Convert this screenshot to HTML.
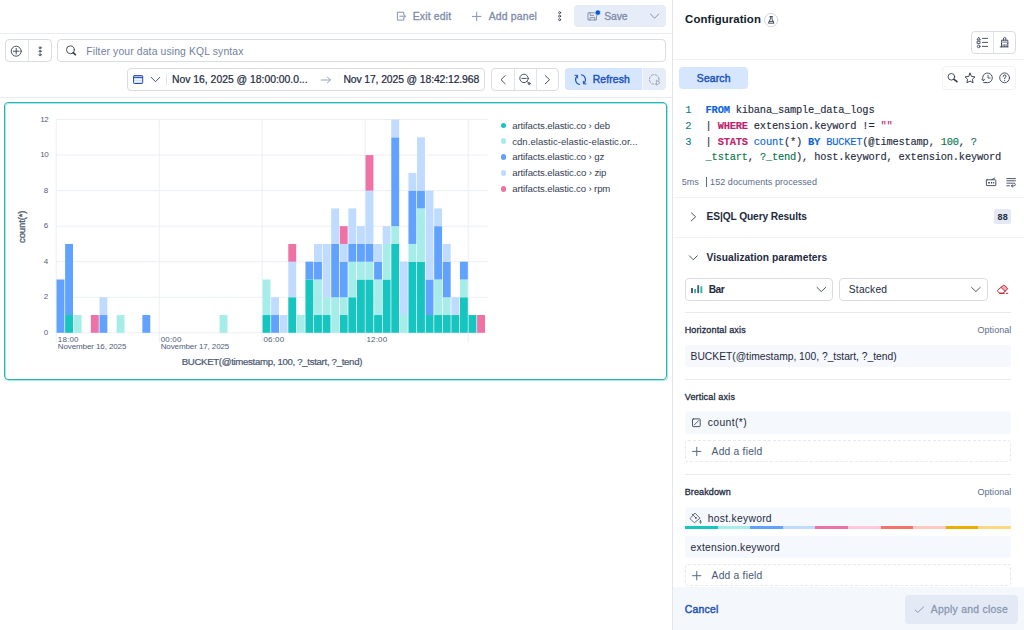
<!DOCTYPE html>
<html><head><meta charset="utf-8"><title>Dashboard</title>
<style>
*{box-sizing:border-box;margin:0;padding:0}
html,body{width:1024px;height:630px;overflow:hidden;background:#fff}
body{font-family:"Liberation Sans",sans-serif;color:#1d2a3e;position:relative;font-size:12px}
.a{position:absolute}
.t{position:absolute;white-space:nowrap;line-height:1}
.hl{position:absolute;height:1px;background:#e9ebf1}
.box{position:absolute;border:1px solid #d9dce5;border-radius:4px;background:#fff}
.fld{position:absolute;left:684.7px;width:326.3px;height:22.4px;background:#f5f8fc;border-radius:3px}
.dash{position:absolute;left:684.7px;width:326.3px;height:22.2px;border:1px dashed #e6e9f1;border-radius:3px}
svg{position:absolute;overflow:visible}
.mono{font-family:"Liberation Mono",monospace;-webkit-text-stroke:.12px}

</style></head>
<body>
<!-- ===== left: header ===== -->
<div class="hl" style="left:0;top:33px;width:672px;background:#eaecf3"></div>
<div class="a" style="left:574.3px;top:4.8px;width:91.7px;height:22.1px;background:#e7edf8;border-radius:4px"></div>
<!-- query bar -->
<div class="box" style="left:5px;top:39.4px;width:46.8px;height:22.8px"></div>
<div class="a" style="left:28px;top:40.4px;width:1px;height:20.8px;background:#dfe5ef"></div>
<div class="box" style="left:56.9px;top:39.4px;width:609.1px;height:22.8px"></div>
<!-- date picker -->
<div class="box" style="left:127.2px;top:68.3px;width:358.2px;height:22.3px"></div>
<div class="a" style="left:166px;top:74px;width:1px;height:10.5px;background:#dfe5ef"></div>
<div class="box" style="left:491.4px;top:68.3px;width:67.5px;height:22.3px"></div>
<div class="a" style="left:514.2px;top:69.3px;width:1px;height:20.3px;background:#dfe5ef"></div>
<div class="a" style="left:536.3px;top:69.3px;width:1px;height:20.3px;background:#dfe5ef"></div>
<div class="a" style="left:565px;top:68.2px;width:100.6px;height:22.3px;background:#e7edf8;border-radius:4px"></div>
<div class="a" style="left:565px;top:68.2px;width:77.2px;height:22.3px;background:#d6e6ff;border-radius:4px 0 0 4px"></div>
<div class="a" id="sepwhite" style="left:641.8px;top:68.2px;width:1px;height:22.3px;background:#f3f6fc"></div>
<div class="hl" style="left:0;top:97px;width:672px;background:#eaecf3"></div>
<!-- panel -->
<div class="a" style="left:4.6px;top:103.1px;width:663px;height:277.5px;border:1.1px solid #9aefe9;border-radius:4px"></div>
<div class="a" style="left:3.8px;top:102.2px;width:663px;height:277.6px;border:1.15px solid #36aeaa;border-radius:4px"></div>
<svg width="1024" height="630" style="left:0;top:0">
<rect x="56.2" y="332.30" width="431.40" height="1" fill="#ebeef5"/>
<rect x="56.2" y="296.76" width="431.40" height="1" fill="#ebeef5"/>
<rect x="56.2" y="261.22" width="431.40" height="1" fill="#ebeef5"/>
<rect x="56.2" y="225.68" width="431.40" height="1" fill="#ebeef5"/>
<rect x="56.2" y="190.14" width="431.40" height="1" fill="#ebeef5"/>
<rect x="56.2" y="154.60" width="431.40" height="1" fill="#ebeef5"/>
<rect x="56.2" y="119.06" width="431.40" height="1" fill="#ebeef5"/>
<rect x="55.70" y="119.56" width="1" height="223.24" fill="#ebeef5"/>
<rect x="158.70" y="119.56" width="1" height="223.24" fill="#ebeef5"/>
<rect x="261.69" y="119.56" width="1" height="223.24" fill="#ebeef5"/>
<rect x="364.69" y="119.56" width="1" height="223.24" fill="#ebeef5"/>
<rect x="467.68" y="119.56" width="1" height="223.24" fill="#ebeef5"/>
<rect x="56.55" y="279.49" width="7.88" height="53.31" fill="#61A2FF"/>
<rect x="65.13" y="315.03" width="7.88" height="17.77" fill="#16C5C0"/>
<rect x="65.13" y="243.95" width="7.88" height="71.08" fill="#61A2FF"/>
<rect x="73.72" y="315.03" width="7.88" height="17.77" fill="#A6EDEA"/>
<rect x="90.88" y="315.03" width="7.88" height="17.77" fill="#EE72A6"/>
<rect x="99.47" y="315.03" width="7.88" height="17.77" fill="#61A2FF"/>
<rect x="99.47" y="297.26" width="7.88" height="17.77" fill="#BFDBFF"/>
<rect x="116.63" y="315.03" width="7.88" height="17.77" fill="#A6EDEA"/>
<rect x="142.38" y="315.03" width="7.88" height="17.77" fill="#61A2FF"/>
<rect x="219.63" y="315.03" width="7.88" height="17.77" fill="#A6EDEA"/>
<rect x="262.54" y="315.03" width="7.88" height="17.77" fill="#16C5C0"/>
<rect x="262.54" y="279.49" width="7.88" height="35.54" fill="#A6EDEA"/>
<rect x="271.13" y="315.03" width="7.88" height="17.77" fill="#61A2FF"/>
<rect x="271.13" y="297.26" width="7.88" height="17.77" fill="#BFDBFF"/>
<rect x="279.71" y="315.03" width="7.88" height="17.77" fill="#BFDBFF"/>
<rect x="288.29" y="297.26" width="7.88" height="35.54" fill="#16C5C0"/>
<rect x="288.29" y="261.72" width="7.88" height="35.54" fill="#BFDBFF"/>
<rect x="288.29" y="243.95" width="7.88" height="17.77" fill="#EE72A6"/>
<rect x="296.87" y="315.03" width="7.88" height="17.77" fill="#A6EDEA"/>
<rect x="305.46" y="279.49" width="7.88" height="53.31" fill="#16C5C0"/>
<rect x="305.46" y="261.72" width="7.88" height="17.77" fill="#61A2FF"/>
<rect x="314.04" y="315.03" width="7.88" height="17.77" fill="#16C5C0"/>
<rect x="314.04" y="279.49" width="7.88" height="35.54" fill="#A6EDEA"/>
<rect x="314.04" y="261.72" width="7.88" height="17.77" fill="#61A2FF"/>
<rect x="314.04" y="243.95" width="7.88" height="17.77" fill="#BFDBFF"/>
<rect x="322.62" y="315.03" width="7.88" height="17.77" fill="#16C5C0"/>
<rect x="322.62" y="297.26" width="7.88" height="17.77" fill="#A6EDEA"/>
<rect x="322.62" y="243.95" width="7.88" height="53.31" fill="#BFDBFF"/>
<rect x="331.21" y="297.26" width="7.88" height="35.54" fill="#A6EDEA"/>
<rect x="331.21" y="243.95" width="7.88" height="53.31" fill="#61A2FF"/>
<rect x="331.21" y="208.41" width="7.88" height="35.54" fill="#BFDBFF"/>
<rect x="339.79" y="315.03" width="7.88" height="17.77" fill="#16C5C0"/>
<rect x="339.79" y="297.26" width="7.88" height="17.77" fill="#A6EDEA"/>
<rect x="339.79" y="261.72" width="7.88" height="35.54" fill="#61A2FF"/>
<rect x="339.79" y="243.95" width="7.88" height="17.77" fill="#BFDBFF"/>
<rect x="339.79" y="226.18" width="7.88" height="17.77" fill="#EE72A6"/>
<rect x="348.37" y="297.26" width="7.88" height="35.54" fill="#16C5C0"/>
<rect x="348.37" y="261.72" width="7.88" height="35.54" fill="#A6EDEA"/>
<rect x="348.37" y="243.95" width="7.88" height="17.77" fill="#61A2FF"/>
<rect x="348.37" y="208.41" width="7.88" height="35.54" fill="#BFDBFF"/>
<rect x="356.96" y="279.49" width="7.88" height="53.31" fill="#16C5C0"/>
<rect x="356.96" y="261.72" width="7.88" height="17.77" fill="#A6EDEA"/>
<rect x="356.96" y="243.95" width="7.88" height="17.77" fill="#61A2FF"/>
<rect x="356.96" y="226.18" width="7.88" height="17.77" fill="#BFDBFF"/>
<rect x="365.54" y="279.49" width="7.88" height="53.31" fill="#16C5C0"/>
<rect x="365.54" y="261.72" width="7.88" height="17.77" fill="#A6EDEA"/>
<rect x="365.54" y="243.95" width="7.88" height="17.77" fill="#61A2FF"/>
<rect x="365.54" y="190.64" width="7.88" height="53.31" fill="#BFDBFF"/>
<rect x="365.54" y="155.10" width="7.88" height="35.54" fill="#EE72A6"/>
<rect x="374.12" y="315.03" width="7.88" height="17.77" fill="#16C5C0"/>
<rect x="374.12" y="279.49" width="7.88" height="35.54" fill="#A6EDEA"/>
<rect x="374.12" y="261.72" width="7.88" height="17.77" fill="#61A2FF"/>
<rect x="374.12" y="243.95" width="7.88" height="17.77" fill="#BFDBFF"/>
<rect x="382.70" y="279.49" width="7.88" height="53.31" fill="#16C5C0"/>
<rect x="382.70" y="243.95" width="7.88" height="35.54" fill="#A6EDEA"/>
<rect x="382.70" y="226.18" width="7.88" height="17.77" fill="#BFDBFF"/>
<rect x="391.29" y="243.95" width="7.88" height="88.85" fill="#16C5C0"/>
<rect x="391.29" y="226.18" width="7.88" height="17.77" fill="#A6EDEA"/>
<rect x="391.29" y="137.33" width="7.88" height="88.85" fill="#61A2FF"/>
<rect x="391.29" y="119.56" width="7.88" height="17.77" fill="#BFDBFF"/>
<rect x="399.87" y="315.03" width="7.88" height="17.77" fill="#A6EDEA"/>
<rect x="399.87" y="261.72" width="7.88" height="53.31" fill="#BFDBFF"/>
<rect x="408.45" y="261.72" width="7.88" height="71.08" fill="#16C5C0"/>
<rect x="408.45" y="243.95" width="7.88" height="17.77" fill="#A6EDEA"/>
<rect x="408.45" y="190.64" width="7.88" height="53.31" fill="#61A2FF"/>
<rect x="408.45" y="172.87" width="7.88" height="17.77" fill="#BFDBFF"/>
<rect x="417.04" y="261.72" width="7.88" height="71.08" fill="#16C5C0"/>
<rect x="417.04" y="208.41" width="7.88" height="53.31" fill="#A6EDEA"/>
<rect x="417.04" y="190.64" width="7.88" height="17.77" fill="#61A2FF"/>
<rect x="417.04" y="137.33" width="7.88" height="53.31" fill="#BFDBFF"/>
<rect x="425.62" y="315.03" width="7.88" height="17.77" fill="#16C5C0"/>
<rect x="425.62" y="279.49" width="7.88" height="35.54" fill="#61A2FF"/>
<rect x="425.62" y="190.64" width="7.88" height="88.85" fill="#BFDBFF"/>
<rect x="434.20" y="315.03" width="7.88" height="17.77" fill="#16C5C0"/>
<rect x="434.20" y="279.49" width="7.88" height="35.54" fill="#A6EDEA"/>
<rect x="434.20" y="226.18" width="7.88" height="53.31" fill="#61A2FF"/>
<rect x="434.20" y="208.41" width="7.88" height="17.77" fill="#BFDBFF"/>
<rect x="442.79" y="315.03" width="7.88" height="17.77" fill="#16C5C0"/>
<rect x="442.79" y="297.26" width="7.88" height="17.77" fill="#A6EDEA"/>
<rect x="442.79" y="261.72" width="7.88" height="35.54" fill="#61A2FF"/>
<rect x="442.79" y="243.95" width="7.88" height="17.77" fill="#BFDBFF"/>
<rect x="451.37" y="315.03" width="7.88" height="17.77" fill="#16C5C0"/>
<rect x="451.37" y="297.26" width="7.88" height="17.77" fill="#BFDBFF"/>
<rect x="459.95" y="297.26" width="7.88" height="35.54" fill="#16C5C0"/>
<rect x="459.95" y="279.49" width="7.88" height="17.77" fill="#A6EDEA"/>
<rect x="459.95" y="261.72" width="7.88" height="17.77" fill="#61A2FF"/>
<rect x="468.53" y="315.03" width="7.88" height="17.77" fill="#16C5C0"/>
<rect x="477.12" y="315.03" width="7.88" height="17.77" fill="#EE72A6"/>
</svg>
<!-- legend dots -->
<div class="a" style="left:500.7px;top:122.5px;width:5.8px;height:5.8px;border-radius:3px;background:#16c5c0"></div>
<div class="a" style="left:500.7px;top:138.3px;width:5.8px;height:5.8px;border-radius:3px;background:#a6edea"></div>
<div class="a" style="left:500.7px;top:154.1px;width:5.8px;height:5.8px;border-radius:3px;background:#61a2ff"></div>
<div class="a" style="left:500.7px;top:170px;width:5.8px;height:5.8px;border-radius:3px;background:#bfdbff"></div>
<div class="a" style="left:500.7px;top:186px;width:5.8px;height:5.8px;border-radius:3px;background:#ee72a6"></div>

<!-- ===== right: flyout ===== -->
<div class="a" style="left:672px;top:0;width:352px;height:630px;background:#fff;border-left:1.3px solid #e3e5ec"></div>
<div class="box" style="left:971.4px;top:31.2px;width:44.4px;height:22.6px"></div>
<div class="a" style="left:993px;top:32.2px;width:1px;height:20.6px;background:#dfe5ef"></div>
<div class="hl" style="left:673px;top:59px;width:351px;background:#f0f2f6"></div>
<div class="a" style="left:679.2px;top:67.1px;width:68.7px;height:22.3px;background:#d6e6ff;border-radius:4px"></div>
<div class="box" style="left:941.7px;top:66.2px;width:74.6px;height:24px;border-color:#f0f2f7"></div>
<div class="a" style="left:705.7px;top:177px;width:1px;height:10px;background:#5a6d8c"></div>
<div class="hl" style="left:673px;top:196.6px;width:351px;background:#f0f2f6"></div>
<div class="a" style="left:993.9px;top:209.3px;width:17.3px;height:14.5px;background:#e3e8f2;border-radius:2.5px"></div>
<div class="hl" style="left:673px;top:237px;width:351px;background:#f0f2f6"></div>
<div class="box" style="left:684.6px;top:278.3px;width:148.8px;height:22.4px"></div>
<div class="box" style="left:839.2px;top:278.3px;width:148.6px;height:22.4px"></div>
<div class="hl" style="left:684.7px;top:312px;width:326.3px"></div>
<div class="fld" style="top:344.6px"></div>
<div class="hl" style="left:684.7px;top:379.2px;width:326.3px"></div>
<div class="fld" style="top:411.3px"></div>
<div class="dash" style="top:440.3px"></div>
<div class="hl" style="left:684.7px;top:474px;width:326.3px"></div>
<div class="fld" style="top:506.9px"></div>
<div class="a" style="left:684.7px;top:526.4px;width:326.3px;height:3.1px;background:linear-gradient(to right,#16c5c0 0 10%,#a6edea 10% 20%,#61a2ff 20% 30%,#bfdbff 30% 40%,#ee72a6 40% 50%,#ffc7db 50% 60%,#f6726a 60% 70%,#ffc9c2 70% 80%,#eaae01 80% 90%,#fcd883 90% 100%)"></div>
<div class="fld" style="top:535.5px"></div>
<div class="dash" style="top:564.3px"></div>
<!-- footer -->
<div class="a" style="left:673.4px;top:586.7px;width:351px;height:44px;background:#f4f7fb"></div>
<div class="a" style="left:905.3px;top:595.4px;width:113.2px;height:28.2px;background:#e4eaf5;border-radius:4px"></div>
<div class="t" style="top:12.00px;font-size:10.4px;color:#7d8ba8;-webkit-text-stroke:.3px;letter-spacing:0.194px;left:412.70px;">Exit edit</div>
<div class="t" style="top:12.00px;font-size:10.4px;color:#7d8ba8;-webkit-text-stroke:.3px;letter-spacing:0.176px;left:488.70px;">Add panel</div>
<div class="t" style="top:11.90px;font-size:10.4px;color:#7d8ba8;-webkit-text-stroke:.3px;letter-spacing:-0.122px;left:604.30px;">Save</div>
<div class="t" style="top:46.80px;font-size:10.4px;color:#73829f;letter-spacing:0.121px;left:86.30px;">Filter your data using KQL syntax</div>
<div class="t" style="top:75.10px;font-size:10.4px;color:#1d2a3e;-webkit-text-stroke:.22px;letter-spacing:-0.011px;left:172.00px;">Nov 16, 2025 @ 18:00:00.0...</div>
<div class="t" style="top:75.10px;font-size:10.4px;color:#1d2a3e;-webkit-text-stroke:.22px;letter-spacing:-0.115px;left:343.40px;">Nov 17, 2025 @ 18:42:12.968</div>
<div class="t" style="top:75.30px;font-size:10.4px;color:#1f55b8;-webkit-text-stroke:.45px;letter-spacing:0.138px;left:592.70px;">Refresh</div>
<div class="t" style="top:115.53px;font-size:8.0px;color:#4f5d78;letter-spacing:-0.506px;right:975.80px;">12</div>
<div class="t" style="top:151.03px;font-size:8.0px;color:#4f5d78;letter-spacing:-0.506px;right:975.80px;">10</div>
<div class="t" style="top:186.63px;font-size:8.0px;color:#4f5d78;letter-spacing:0.000px;right:975.80px;">8</div>
<div class="t" style="top:222.13px;font-size:8.0px;color:#4f5d78;letter-spacing:0.000px;right:975.80px;">6</div>
<div class="t" style="top:257.63px;font-size:8.0px;color:#4f5d78;letter-spacing:0.000px;right:975.80px;">4</div>
<div class="t" style="top:293.23px;font-size:8.0px;color:#4f5d78;letter-spacing:0.000px;right:975.80px;">2</div>
<div class="t" style="top:328.73px;font-size:8.0px;color:#4f5d78;letter-spacing:0.000px;right:975.80px;">0</div>
<div class="t" style="top:335.73px;font-size:8.0px;color:#4f5d78;letter-spacing:0.167px;left:57.80px;">18:00</div>
<div class="t" style="top:342.93px;font-size:8.0px;color:#4f5d78;letter-spacing:-0.104px;left:57.80px;">November 16, 2025</div>
<div class="t" style="top:335.73px;font-size:8.0px;color:#4f5d78;letter-spacing:0.167px;left:160.70px;">00:00</div>
<div class="t" style="top:342.93px;font-size:8.0px;color:#4f5d78;letter-spacing:-0.104px;left:160.70px;">November 17, 2025</div>
<div class="t" style="top:335.73px;font-size:8.0px;color:#4f5d78;letter-spacing:0.167px;left:263.50px;">06:00</div>
<div class="t" style="top:335.73px;font-size:8.0px;color:#4f5d78;letter-spacing:0.167px;left:366.50px;">12:00</div>
<div class="t" style="top:356.67px;font-size:9.6px;color:#4a5872;-webkit-text-stroke:.22px;letter-spacing:-0.299px;left:181.70px;">BUCKET(@timestamp, 100, ?_tstart, ?_tend)</div>
<div class="t" style="top:120.87px;font-size:9.6px;color:#343e54;letter-spacing:-0.120px;left:512.20px;">artifacts.elastic.co › deb</div>
<div class="t" style="top:136.67px;font-size:9.6px;color:#343e54;letter-spacing:0.022px;left:512.20px;">cdn.elastic-elastic-elastic.or...</div>
<div class="t" style="top:152.47px;font-size:9.6px;color:#343e54;letter-spacing:-0.118px;left:512.20px;">artifacts.elastic.co › gz</div>
<div class="t" style="top:168.37px;font-size:9.6px;color:#343e54;letter-spacing:-0.111px;left:512.20px;">artifacts.elastic.co › zip</div>
<div class="t" style="top:184.37px;font-size:9.6px;color:#343e54;letter-spacing:-0.125px;left:512.20px;">artifacts.elastic.co › rpm</div>
<div class="t" style="top:13.95px;font-size:11.4px;color:#111c2c;font-weight:bold;letter-spacing:0.092px;left:685.10px;">Configuration</div>
<div class="t" style="top:73.90px;font-size:10.4px;color:#1f55b8;-webkit-text-stroke:.45px;letter-spacing:0.157px;left:696.80px;">Search</div>
<div class="t" style="top:178.38px;font-size:9.0px;color:#5a6d8c;letter-spacing:0.017px;left:681.80px;">5ms</div>
<div class="t" style="top:178.38px;font-size:9.0px;color:#5a6d8c;letter-spacing:0.058px;left:710.10px;">152 documents processed</div>
<div class="t" style="top:212.37px;font-size:10.2px;color:#1d2a3e;font-weight:bold;letter-spacing:-0.111px;left:706.60px;">ES|QL Query Results</div>
<div class="t" style="top:213.18px;font-size:9.0px;color:#1d2a3e;font-weight:bold;letter-spacing:0.234px;left:997.60px;">88</div>
<div class="t" style="top:253.17px;font-size:10.2px;color:#1d2a3e;font-weight:bold;letter-spacing:0.033px;left:706.60px;">Visualization parameters</div>
<div class="t" style="top:285.17px;font-size:10.2px;color:#1d2a3e;font-weight:bold;letter-spacing:-0.445px;left:708.70px;">Bar</div>
<div class="t" style="top:285.17px;font-size:10.2px;color:#1d2a3e;letter-spacing:0.233px;left:848.80px;">Stacked</div>
<div class="t" style="top:326.18px;font-size:9.0px;color:#1d2a3e;-webkit-text-stroke:.3px;letter-spacing:0.137px;left:684.70px;">Horizontal axis</div>
<div class="t" style="top:326.18px;font-size:9.0px;color:#5a6d8c;letter-spacing:0.031px;left:977.50px;">Optional</div>
<div class="t" style="top:351.78px;font-size:10.3px;color:#1d2a3e;letter-spacing:-0.018px;left:690.60px;">BUCKET(@timestamp, 100, ?_tstart, ?_tend)</div>
<div class="t" style="top:392.98px;font-size:9.0px;color:#1d2a3e;-webkit-text-stroke:.3px;letter-spacing:0.185px;left:684.70px;">Vertical axis</div>
<div class="t" style="top:418.48px;font-size:10.3px;color:#1d2a3e;letter-spacing:0.422px;left:707.70px;">count(*)</div>
<div class="t" style="top:447.08px;font-size:10.3px;color:#485975;letter-spacing:0.204px;left:711.60px;">Add a field</div>
<div class="t" style="top:488.28px;font-size:9.0px;color:#1d2a3e;-webkit-text-stroke:.3px;letter-spacing:0.115px;left:684.70px;">Breakdown</div>
<div class="t" style="top:488.28px;font-size:9.0px;color:#5a6d8c;letter-spacing:0.031px;left:977.50px;">Optional</div>
<div class="t" style="top:513.78px;font-size:10.3px;color:#1d2a3e;letter-spacing:0.295px;left:707.70px;">host.keyword</div>
<div class="t" style="top:542.68px;font-size:10.3px;color:#1d2a3e;letter-spacing:0.246px;left:690.60px;">extension.keyword</div>
<div class="t" style="top:571.08px;font-size:10.3px;color:#485975;letter-spacing:0.204px;left:711.60px;">Add a field</div>
<div class="t" style="top:604.90px;font-size:10.4px;color:#1f55b8;-webkit-text-stroke:.45px;letter-spacing:0.232px;left:684.80px;">Cancel</div>
<div class="t" style="top:604.90px;font-size:10.4px;color:#8a98b3;-webkit-text-stroke:.3px;letter-spacing:0.254px;left:930.80px;">Apply and close</div>
<div class="t mono" style="top:105.33px;font-size:10.4px;color:#1d2a3e;letter-spacing:-0.206px;left:705.60px;"><span style="color:#0b64dd;font-weight:bold">FROM</span><span style="color:#1d2a3e"> kibana_sample_data_logs</span></div>
<div class="t mono" style="top:120.93px;font-size:10.4px;color:#1d2a3e;letter-spacing:-0.207px;left:705.60px;"><span style="color:#1d2a3e">| </span><span style="color:#bc1e70;font-weight:bold">WHERE</span><span style="color:#1d2a3e"> extension.keyword != </span><span style="color:#bc1e70">&quot;&quot;</span></div>
<div class="t mono" style="top:136.53px;font-size:10.4px;color:#1d2a3e;letter-spacing:-0.209px;left:705.60px;"><span style="color:#1d2a3e">| </span><span style="color:#bc1e70;font-weight:bold">STATS</span><span style="color:#1d2a3e"> </span><span style="color:#0b64dd">count</span><span style="color:#1d2a3e">(*) </span><span style="color:#0b64dd;font-weight:bold">BY</span><span style="color:#1d2a3e"> </span><span style="color:#0b64dd">BUCKET</span><span style="color:#1d2a3e">(@timestamp, </span><span style="color:#09724d">100</span><span style="color:#1d2a3e">, </span><span style="color:#09724d">?</span></div>
<div class="t mono" style="top:152.23px;font-size:10.4px;color:#1d2a3e;letter-spacing:-0.206px;left:705.60px;"><span style="color:#09724d">_tstart</span><span style="color:#1d2a3e">, </span><span style="color:#09724d">?_tend</span><span style="color:#1d2a3e">), host.keyword, extension.keyword</span></div>
<div class="t mono" style="top:105.33px;font-size:10.4px;color:#1d2a3e;letter-spacing:-0.220px;left:685.20px;"><span style="color:#0e7c86">1</span></div>
<div class="t mono" style="top:120.93px;font-size:10.4px;color:#1d2a3e;letter-spacing:-0.220px;left:685.20px;"><span style="color:#0e7c86">2</span></div>
<div class="t mono" style="top:136.53px;font-size:10.4px;color:#1d2a3e;letter-spacing:-0.220px;left:685.20px;"><span style="color:#0e7c86">3</span></div>
<div class="t" style="left:0;top:0;font-size:9.6px;-webkit-text-stroke:.3px;color:#4a5872;letter-spacing:-0.15px;transform-origin:0 0;transform:translate(16.6px,243px) rotate(-90deg)">count(*)</div>
<svg width="1024" height="630" style="left:0;top:0" fill="none" stroke-linecap="round" stroke-linejoin="round">
<!-- rotated y title placeholder handled in text -->
<g stroke="#8693ad" stroke-width="1">
  <!-- exit -->
  <path d="M403.8 14.2V12.2H397.4V20.1H403.8V18.2"/>
  <path d="M399.8 16.2H405.4M403.7 14.5L405.4 16.2L403.7 17.9"/>
  <!-- plus -->
  <path d="M472.4 16.4H481M476.7 12.1V20.7"/>
  <!-- save -->
  <path d="M588.4 12.8H594.6L596.4 14.6V20H588.4Z"/>
  <path d="M590.2 12.8V15.4H593.6M590 20V17.6H594.8V20"/>
  <!-- save chevron -->
  <path d="M650.4 14L654.6 18.2L658.8 14"/>
</g>
<circle cx="597.9" cy="12.6" r="2.7" fill="#0b57d0" stroke="#e4ebf7" stroke-width=".6"/>
<g stroke="#2b364a" stroke-width=".85">
  <!-- kebab top -->
  <circle cx="559.6" cy="12.7" r="1" stroke-width=".8"/><circle cx="559.6" cy="16.2" r="1" stroke-width=".8"/><circle cx="559.6" cy="19.7" r="1" stroke-width=".8"/>
  <!-- plus in circle -->
  <circle cx="16.2" cy="51.2" r="5"/><path d="M13.4 51.2H19M16.2 48.4V54"/>
  <!-- kebab query -->
  <circle cx="40.1" cy="47.8" r="1" stroke-width=".8"/><circle cx="40.1" cy="51.3" r="1" stroke-width=".8"/><circle cx="40.1" cy="54.8" r="1" stroke-width=".8"/>
  <!-- magnifier query -->
  <circle cx="70.4" cy="49.8" r="3.9"/><path d="M73.2 52.6L75.4 54.8" stroke-width="1.6"/>
  <!-- nav chevrons -->
  <path d="M505.2 75.6L501 79.7L505.2 83.8"/>
  <path d="M545.2 75.6L549.6 79.7L545.2 83.8"/>
  <!-- zoom out -->
  <circle cx="524" cy="78.4" r="4.2"/><path d="M521.8 78.4H526.2"/><path d="M527 81.4L528.6 83"/><circle cx="529.2" cy="83.6" r="1" />
</g>
<!-- calendar -->
<rect x="133.5" y="75.6" width="9.2" height="7.9" rx=".8" fill="#c9dcff" stroke="#2f4ea3" stroke-width="1"/>
<path d="M133.5 77.4H142.7" stroke="#2f4ea3" stroke-width="1"/>
<path d="M135 79.6H141.2M135 81.4H141.2" stroke="#fff" stroke-width=".8"/>
<path d="M151.2 77.3L155.5 81.7L159.8 77.3" stroke="#46557a" stroke-width="1"/>
<!-- arrow -->
<path d="M321.2 80H330.4M327.4 77L330.4 80L327.4 83" stroke="#98a4bd" stroke-width="1"/>
<!-- refresh -->
<g stroke="#1f55b8" stroke-width="1.1">
  <path d="M579.6 84.5A5 5 0 0 1 577.3 75.8"/>
  <path d="M581.4 74.7A5 5 0 0 1 583.7 83.4"/>
  <path d="M575 75.3H577.6V77.9" stroke-width="1"/>
  <path d="M586 83.9H583.4V81.3" stroke-width="1"/>
</g>
<!-- dashed circle play -->
<circle cx="654.2" cy="79.4" r="4.8" stroke="#98a4bd" stroke-width="1" stroke-dasharray="2.2 1.6"/>
<path d="M656.4 80.6V85.2L659.8 82.9Z" fill="#e9eef8" stroke="#98a4bd" stroke-width=".9"/>

<!-- ===== flyout icons ===== -->
<circle cx="771.2" cy="20.1" r="6.6" stroke="#cdd5e3" stroke-width="1" fill="#fff"/>
<path d="M770 16.6H772.4M770.4 16.8V19L768.4 23.2H774L772 19V16.8M769.3 21.4H773.1" stroke="#1d2a3e" stroke-width=".8"/>
<g stroke="#2b364a" stroke-width=".85">
  <!-- list icon -->
  <path d="M977.2 39.6L978.7 37.2L980.2 39.6Z" stroke-width=".8"/>
  <rect x="977.5" y="41.2" width="2.5" height="2.4" stroke-width=".8"/>
  <circle cx="978.7" cy="46.4" r="1.35" stroke-width=".8"/>
  <path d="M982.4 38.4H987.6M982.4 42.4H987.6M982.4 46.4H987.6"/>
  <!-- brush -->
  <path d="M1003.6 40V38Q1004.7 36.6 1005.8 38V40"/>
  <path d="M1001.5 43.4V40.2H1007.8V43.4" />
  <path d="M1001.5 42.2H1007.8" stroke="#8b94a8" stroke-width="1.3"/>
  <path d="M1001.5 43.4V46.8M1007.8 43.4V46.8M1000.2 46.9H1007.9"/>
  <path d="M1003.1 46.6V44.6M1004.7 46.6V44.6M1006.2 46.6V44.6" stroke-width=".7"/>
  <!-- magnifier -->
  <circle cx="951.4" cy="76.8" r="3.3"/><path d="M954 79.4L957 81.7" stroke-width="1.5"/>
  <!-- star -->
  <path d="M970 73.2L971.5 76.4L975 76.9L972.4 79.3L973.1 82.8L970 81.1L966.9 82.8L967.6 79.3L965 76.9L968.5 76.4Z" stroke-width=".9"/>
  <!-- history -->
  <path d="M983.2 80.4A4.9 4.9 0 1 1 985.4 82.4" />
  <path d="M981.8 79.2L983.2 80.8L984.8 79.4" stroke-width=".8"/>
  <path d="M988 75.2V78H990.2" stroke-width=".8"/>
  <path d="M986.2 82.6H983.6" stroke-width=".8"/>
  <!-- help -->
  <circle cx="1004.6" cy="77.8" r="4.9"/>
  <path d="M1003.2 76.4Q1003.3 74.9 1004.7 74.9Q1006.1 75 1006 76.3Q1005.9 77.2 1004.7 77.8V78.8" stroke-width=".9"/>
  <circle cx="1004.7" cy="80.6" r=".5" fill="#1d2a3e" stroke="none"/>
  <!-- status icons -->
  <rect x="986.4" y="179.8" width="9.4" height="5.8" rx=".6"/>
  <path d="M988.2 182.8H989.8M991 182.8H992.2M993.2 182.8H994.2" stroke-width="1.4" stroke-linecap="butt"/>
  <path d="M991.8 179.6L994.8 178" stroke-width=".8"/>
  <path d="M1006.8 178.6H1015.4M1006.8 180.8H1015.4"/>
  <path d="M1006.8 183.2H1013.6Q1015.4 183.2 1015.4 184.6Q1015.4 185.9 1013.6 185.9H1011.6M1012.8 184.7L1011.4 185.9L1012.8 187.1" stroke-width=".8"/>
  <path d="M1006.8 185.8H1009.4"/>
  <!-- accordion chevrons -->
  <path d="M691.4 212.8L695.6 216.8L691.4 220.8"/>
  <path d="M689.4 255.8L693.3 259.8L697.2 255.8"/>
  <!-- select chevrons -->
  <path d="M817 287.4L821.3 291.6L825.6 287.4"/>
  <path d="M971.6 287.4L975.9 291.6L980.2 287.4"/>
  <!-- square slash -->
  <rect x="692.5" y="418.9" width="7.7" height="7.7" rx=".8"/><path d="M694.2 425L698.6 420.6" stroke-width=".8"/>
  <!-- bucket -->
  <path d="M695.2 513.3L700 518.2L694.6 522.6Q694.2 522.8 693.8 522.4L690.3 518.9Q690 518.5 690.4 518.1Z" stroke-width=".8" stroke="#3f4b60"/>
  <path d="M692.2 514.2L695.6 517.6" stroke-width=".8" stroke="#3f4b60"/>
  <circle cx="695.9" cy="517.9" r=".9" fill="#3f4b60" stroke="none"/>
  <path d="M700.5 520.6Q701.9 522.4 700.5 523.4Q699.1 522.4 700.5 520.6Z" stroke-width=".8" stroke="#3f4b60"/>
</g>
<g stroke="#56688a" stroke-width="1">
  <path d="M692.6 451.4H700.9M696.75 447.2V455.6"/>
  <path d="M692.6 575.7H700.9M696.75 571.5V579.9"/>
</g>
<!-- bar icon -->
<g stroke="none">
  <rect x="691.1" y="288" width="1.8" height="5.1" fill="#3e4c63"/>
  <rect x="694.2" y="289" width="1.8" height="4.1" fill="#2bb5a8"/>
  <rect x="697.3" y="285.2" width="1.8" height="7.9" fill="#44577d"/>
  <rect x="700.4" y="286.4" width="1.9" height="6.7" fill="#2bb5a8"/>
</g>
<!-- eraser -->
<g stroke="#b4232f" stroke-width=".95">
  <path d="M1001.2 287.2L1003.4 285.4Q1004 285 1004.6 285.5L1007.4 288Q1007.9 288.6 1007.4 289.2L1005.4 291Z" fill="#f5a7b6"/>
  <path d="M1001.2 287.2L997.8 290Q997.2 290.7 997.8 291.3L999.6 293.2H1003L1005.4 291"/>
  <path d="M999.6 293.3H1004.4M1006.2 293.3H1007.8"/>
</g>
<!-- check -->
<path d="M915.2 610L917.8 612.4L923.6 607" stroke="#8a98b3" stroke-width="1"/>
</svg>


</body></html>
